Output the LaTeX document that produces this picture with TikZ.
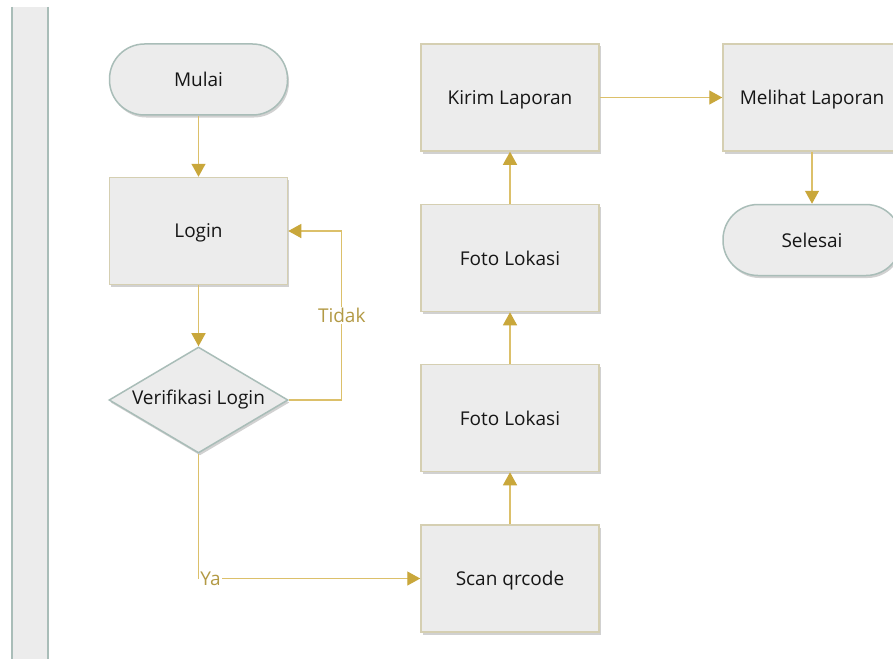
\documentclass[tikz,border=0pt]{standalone}
\usepackage{fontspec}
\setmainfont{Open Sans}
\usetikzlibrary{arrows.meta,shapes.geometric,shadows}
\definecolor{boxfill}{HTML}{ECECEC}
\definecolor{boxline}{HTML}{D5CFB2}
\definecolor{pillline}{HTML}{A9BDB8}
\definecolor{connline}{HTML}{DCC06A}
\definecolor{conntip}{HTML}{C9A73B}
\definecolor{lbltext}{HTML}{B39A45}
\definecolor{txt}{HTML}{161616}
\tikzset{
  base/.style={fill=boxfill, text=txt, font=\fontsize{19}{21}\selectfont, line width=1.5pt,
    drop shadow={shadow xshift=1.5pt, shadow yshift=-2.5pt, opacity=0.18, fill=black}},
  procbox/.style={base, draw=boxline, rectangle, minimum width=178pt, minimum height=107pt, inner sep=0pt, text depth=0pt},
  pill/.style={base, draw=pillline, rectangle, rounded corners=35pt, minimum width=178pt, minimum height=71pt, inner sep=0pt},
  decis/.style={base, draw=pillline, diamond, minimum width=179pt, minimum height=106pt, inner sep=0pt},
  conn/.style={draw=connline, line width=1.3pt, -{Triangle[width=14pt,length=13pt,color=conntip]}},
  lbl/.style={fill=white, text=lbltext, inner sep=1pt, font=\fontsize{19}{21}\selectfont},
  plain/.style={text=txt, font=\fontsize{19}{21}\selectfont, inner sep=0pt}
}
\begin{document}
\begin{tikzpicture}[x=1pt,y=-1pt]
\clip (0,0) rectangle (893,658);
\fill[white] (0,0) rectangle (893,658);
% left bar
\fill[boxfill] (12,7) rectangle (48,670);
\draw[pillline, line width=1.8pt] (12,7) -- (12,670);
\draw[pillline, line width=1.8pt] (48,7) -- (48,670);
% nodes
\node[pill] (mulai) at (198.5,79.5) {Mulai};
\node[procbox] (login) at (198.5,231) {Login};
\node[decis] (ver) at (198.5,400) {};
\node[plain] (vertext) at (ver.center) {Verifikasi Login};
\node[procbox] (scan) at (510,578.5) {Scan qrcode};
\node[procbox] (foto1) at (510,418) {Foto Lokasi};
\node[procbox] (foto2) at (510,258) {Foto Lokasi};
\node[procbox] (kirim) at (510,97.5) {Kirim Laporan};
\node[procbox] (lihat) at (812,97.5) {Melihat Laporan};
\node[pill] (selesai) at (812,240) {Selesai};
% connectors
\draw[conn] (mulai) -- (login);
\draw[conn] (login) -- (ver);
\draw[conn] (ver.east) -- ++(53,0) |- (login.east) node[pos=0.25,lbl] {Tidak};
\draw[conn] (ver.south) |- (scan.west) node[pos=0.527,lbl] {Ya};
\draw[conn] (scan) -- (foto1);
\draw[conn] (foto1) -- (foto2);
\draw[conn] (foto2) -- (kirim);
\draw[conn] (kirim) -- (lihat);
\draw[conn] (lihat) -- (selesai);
\end{tikzpicture}
\end{document}
